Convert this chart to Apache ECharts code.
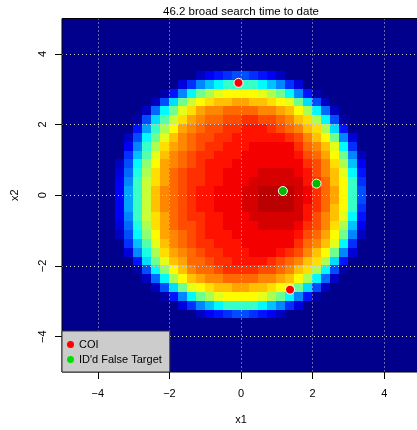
<!DOCTYPE html>
<html><head><meta charset="utf-8">
<script src="https://cdn.jsdelivr.net/npm/echarts@6/dist/echarts.min.js"></script>
<style>html,body{margin:0;padding:0;background:#fff}#c{width:417px;height:430px}</style>
</head><body><div id="c"></div>
<script>
const titleText = '46.2 broad search time to date';
const xTicks = [-4, -2, 0, 2, 4];
const yTicks = [-4, -2, 0, 2, 4];
const seriesNames = ['COI', "ID'd False Target"];
const coiPoints = [[-0.07, 3.18], [1.37, -2.67]];
const falseTargetPoints = [[1.17, 0.12], [2.11, 0.33]];
// Density level per 0.25-unit cell (base-36 digit, 0..35).
// Rows run from top (y = 4.875) to bottom (y = -4.875); columns from x = -4.875 to 4.875.
const densityRows = [
  "0000000000000000000000000000000000000000",
  "0000000000000000000000000000000000000000",
  "0000000000000000000000000000000000000000",
  "0000000000000000000000000000000000000000",
  "0000000000000000000000000000000000000000",
  "0000000000000000000000000000000000000000",
  "0000000000000002456776542000000000000000",
  "0000000000000369bdffffdb9630000000000000",
  "00000000000159dhjlmmmmljhd95100000000000",
  "000000000027chkmnooppoonmlhc720000000000",
  "00000000028dhlnpqqrrrrqqpomjd82000000000",
  "0000000017cgknpqrrssttssrqonjd7100000000",
  "000000005afjmpqrssttuuutsrqonjc500000000",
  "000000027dhloqrssttuuuuuutsqomh930000000",
  "000000049fjnpqrsttuuuvvvvvtrqold60000000",
  "00000006bgloqrsttuuuvvvvvvusrpmh92000000",
  "00000027dimpqrstuuuvvvvvvvvtsqnjb4000000",
  "00000038ejnprsttuuvvvvwwwwvusqold5000000",
  "00000049fknprsttuuvvvwwwwwwutromf6000000",
  "0000004afkoqrstuuvvvwwxxxxwvtrpmf7000000",
  "0000004afkoqrstuuvvvwwxxxxwvtrpmf7000000",
  "0000004afkoqrstuuvvvwwxxxxwutromf6000000",
  "00000049fknprsttuuvvvwwwwwwusqold5000000",
  "00000038ejnprsstuuvvvvwwwwvtsqnjb4000000",
  "00000027dimpqrstuuuvvvvvvvusrpmh92000000",
  "00000006bgloqrsttuuuvvvvvvtrqold60000000",
  "000000039ejnpqrsttuuuvvvutsqomh930000000",
  "000000005chloprrsttuuuutsrqonjc500000000",
  "0000000017dimoqrrsttttssrqonjd7100000000",
  "00000000028djmopqqrrrrqqpomjd82000000000",
  "000000000027chlmnooppoonmlhc720000000000",
  "00000000000159dhjlmmmmljhd95100000000000",
  "0000000000000369bdffffdb9630000000000000",
  "0000000000000002456776542000000000000000",
  "0000000000000000000000000000000000000000",
  "0000000000000000000000000000000000000000",
  "0000000000000000000000000000000000000000",
  "0000000000000000000000000000000000000000",
  "0000000000000000000000000000000000000000",
  "0000000000000000000000000000000000000000"
];
const jetColors = ['#00008c', '#0000ff', '#007fff', '#00ffff', '#7fff7f', '#ffff00', '#ff7f00', '#ff0000', '#7f0000'];

// cell centres (grid geometry, not data values)
const nRows = densityRows.length, nCols = densityRows[0].length;
const colCenters = Array.from({length: nCols}, (_, i) => -5 + 10 * (i + 0.5) / nCols);
const rowCenters = Array.from({length: nRows}, (_, j) => 5 - 10 * (j + 0.5) / nRows);
const halfW = 5 / nCols, halfH = 5 / nRows;
const heatData = [];
densityRows.forEach((row, j) => {
  for (let i = 0; i < row.length; i++) heatData.push([colCenters[i], rowCenters[j], parseInt(row[i], 36)]);
});

const font = '"Liberation Sans", Arial, Helvetica, sans-serif';
const minus = v => String(v).replace('-', '\u2212');
const gridLine = {show: true, lineStyle: {color: '#d3d3d3', type: [1, 3], width: 1}};
const tickStyle = {color: '#000', width: 1};

function renderCell(params, api) {
  const x = api.value(0), y = api.value(1);
  const a = api.coord([x - halfW, y + halfH]);
  const b = api.coord([x + halfW, y - halfH]);
  const x0 = Math.floor(a[0]), y0 = Math.floor(a[1]);
  const x1 = Math.ceil(b[0]), y1 = Math.ceil(b[1]);
  return {type: 'rect', shape: {x: x0, y: y0, width: x1 - x0, height: y1 - y0},
          style: {fill: api.visual('color'), stroke: null}};
}

const chart = echarts.init(document.getElementById('c'), null, {renderer: 'canvas'});
chart.setOption({
  animation: false,
  backgroundColor: '#ffffff',
  textStyle: {fontFamily: font},
  title: {text: titleText, left: 241, top: 6, padding: 0, textAlign: 'center',
    textStyle: {fontSize: 11.5, fontWeight: 'normal', color: '#000', fontFamily: font}},
  grid: {left: 62, top: 18.5, width: 358, height: 353.5, show: true, borderColor: '#000', borderWidth: 1,
    backgroundColor: 'transparent', z: 4, containLabel: false, outerBoundsMode: 'none'},
  visualMap: {type: 'continuous', show: false, min: 0, max: 35, dimension: 2, seriesIndex: 0,
    inRange: {color: jetColors}},
  legend: {orient: 'vertical', left: 62, top: 331, padding: [8, 8, 7, 5], itemGap: 4, itemWidth: 7, itemHeight: 7,
    icon: 'circle', backgroundColor: '#cccccc', borderColor: '#333', borderWidth: 1, borderRadius: 0, z: 6,
    selectedMode: false, textStyle: {fontSize: 11, color: '#000', fontFamily: font},
    data: [{name: seriesNames[0], itemStyle: {color: '#ff0000', borderWidth: 0}},
           {name: seriesNames[1], itemStyle: {color: '#00e000', borderWidth: 0}}]},
  xAxis: {type: 'value', min: -5, max: 5, position: 'bottom', z: 3, name: 'x1', nameLocation: 'middle', nameGap: 42,
    nameTextStyle: {fontSize: 11, color: '#000', fontFamily: font},
    axisLine: {show: false, onZero: false},
    axisTick: {show: true, length: 7, customValues: xTicks, lineStyle: tickStyle},
    axisLabel: {customValues: xTicks, formatter: minus, fontSize: 11, color: '#000', margin: 16, fontFamily: font},
    splitLine: gridLine},
  yAxis: {type: 'value', min: -5, max: 5, position: 'left', z: 3, name: 'x2', nameLocation: 'middle', nameGap: 42,
    nameTextStyle: {fontSize: 11, color: '#000', fontFamily: font},
    axisLine: {show: false, onZero: false},
    axisTick: {show: true, length: 7, customValues: yTicks, lineStyle: tickStyle},
    axisLabel: {customValues: yTicks, formatter: minus, rotate: 90, fontSize: 11, color: '#000', margin: 14, fontFamily: font},
    splitLine: gridLine},
  series: [
    {type: 'custom', name: 'density', renderItem: renderCell, data: heatData, z: 1, clip: true,
      encode: {x: 0, y: 1}, emphasis: {disabled: true}, silent: true, progressive: 0},
    {type: 'scatter', name: seriesNames[0], data: coiPoints, symbol: 'circle',
      symbolSize: 9, z: 5, itemStyle: {color: '#ff0000', borderColor: '#ffffff', borderWidth: 1, opacity: 1}},
    {type: 'scatter', name: seriesNames[1], data: falseTargetPoints, symbol: 'circle',
      symbolSize: 9, z: 5, itemStyle: {color: '#00bb00', borderColor: '#ffffff', borderWidth: 1, opacity: 1}}
  ]
});
</script></body></html>
